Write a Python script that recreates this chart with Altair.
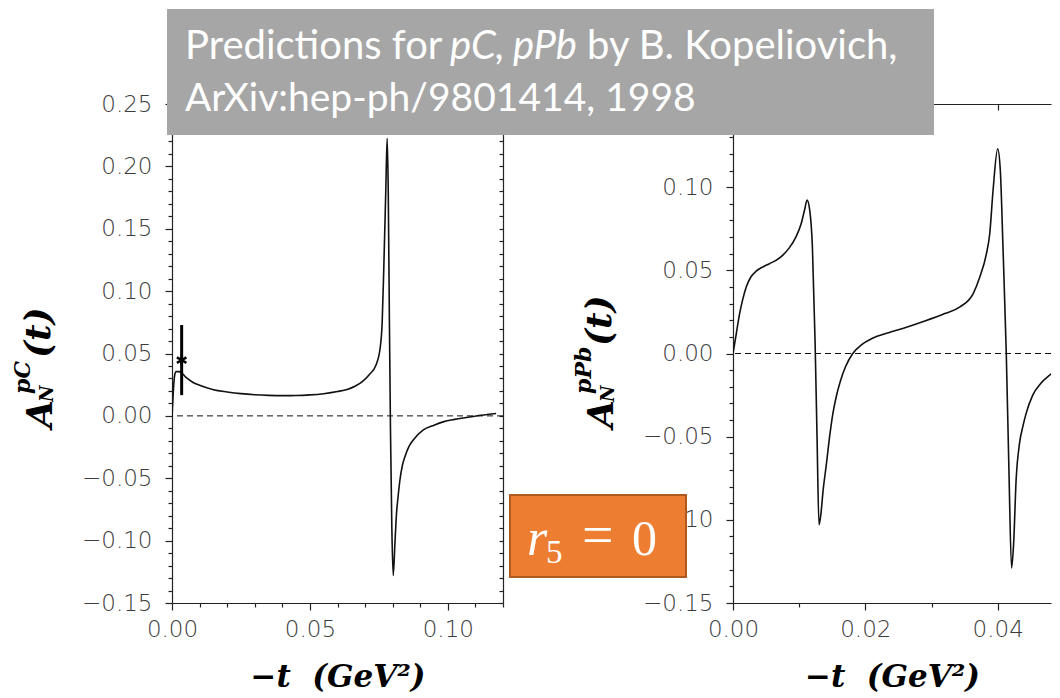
import altair as alt
import pandas as pd

# ---------------- data ----------------
# p-C analysing power (left panel)
pc_t = [0.0, 0.0003, 0.0006, 0.001, 0.0015, 0.0025, 0.0035, 0.005, 0.0075, 0.01,
        0.015, 0.02, 0.025, 0.03, 0.035, 0.04, 0.045, 0.05, 0.055, 0.06,
        0.0635, 0.0665, 0.069, 0.0715, 0.074, 0.0755, 0.0762, 0.0768, 0.0775, 0.078,
        0.0784, 0.0788, 0.0792, 0.0797, 0.0802, 0.0808, 0.0814, 0.082, 0.0826, 0.0835,
        0.0844, 0.0858, 0.0874, 0.091, 0.095, 0.0983, 0.1025, 0.1067, 0.112, 0.1175]
pc_a = [0.0, 0.012, 0.024, 0.033, 0.0355, 0.0355, 0.0345, 0.031, 0.027, 0.0245,
        0.021, 0.0192, 0.0178, 0.0169, 0.0164, 0.0162, 0.0163, 0.0168, 0.0178, 0.0195,
        0.0212, 0.024, 0.0275, 0.033, 0.041, 0.055, 0.075, 0.12, 0.18, 0.2226,
        0.18, 0.08, -0.01, -0.09, -0.128, -0.103, -0.078, -0.064, -0.052, -0.040,
        -0.033, -0.025, -0.0195, -0.0115, -0.0075, -0.0048, -0.0028, -0.0013, 0.0005, 0.0019]

# p-Pb analysing power (right panel)
pb_t = [0.0, 0.0005, 0.001, 0.0015, 0.002, 0.0027, 0.0035, 0.0045, 0.0055, 0.0065,
        0.0075, 0.0085, 0.0095, 0.0103, 0.0108, 0.0112, 0.0116, 0.012, 0.0124, 0.0127,
        0.013, 0.0133, 0.0136, 0.0141, 0.0146, 0.0151, 0.0156, 0.0162, 0.017, 0.0181,
        0.0195, 0.021, 0.0235, 0.026, 0.029, 0.032, 0.0343, 0.0363, 0.0373, 0.0383,
        0.0388, 0.0393, 0.04, 0.0404, 0.0408, 0.0413, 0.0417, 0.0421, 0.0424, 0.0428,
        0.0433, 0.0438, 0.0443, 0.0453, 0.0465, 0.048, 0.0493, 0.05]
pb_a = [0.0, 0.012, 0.024, 0.033, 0.040, 0.046, 0.0495, 0.052, 0.054, 0.056,
        0.059, 0.0635, 0.07, 0.078, 0.086, 0.0922, 0.086, 0.064, 0.008, -0.05,
        -0.103, -0.096, -0.083, -0.067, -0.050, -0.036, -0.026, -0.017, -0.008, 0.0,
        0.0055, 0.009, 0.0125, 0.0155, 0.0195, 0.024, 0.028, 0.036, 0.046, 0.060,
        0.072, 0.098, 0.123, 0.11, 0.064, 0.0, -0.07, -0.129, -0.115, -0.075,
        -0.054, -0.044, -0.036, -0.025, -0.018, -0.0125, -0.0085, -0.0068]

# measured point with error bar (left panel)
pt_t = [0.0035]
pt_a = [0.0447]
pt_lo = [0.0166]
pt_hi = [0.0728]

# axis ticks
lx_major = [0.0, 0.05, 0.10]
lx_minor = [0.01, 0.02, 0.03, 0.04, 0.06, 0.07, 0.08, 0.09, 0.11, 0.12]
ly_major = [-0.15, -0.10, -0.05, 0.0, 0.05, 0.10, 0.15, 0.20, 0.25]
rx_major = [0.0, 0.02, 0.04]
rx_minor = [0.01, 0.03]
ry_major = [-0.15, -0.10, -0.05, 0.0, 0.05, 0.10]

title_line1 = [("Predictions for", "normal"), ("pC,", "italic"), ("pPb", "italic"),
               ("by B. Kopeliovich,", "normal")]
title_line2 = "ArXiv:hep-ph/9801414, 1998"
xtitle = "\u2212t\u00a0\u00a0(GeV\u00b2)"

W = 331
WR = 318
H = 499


def steps(lo, hi, step=0.01):
    n = int(round((hi - lo) / step))
    return [round(lo + i * step, 3) for i in range(n + 1)]


def minors(lo, hi, majors):
    return [v for v in steps(lo, hi) if all(abs(v - m) > 1e-6 for m in majors)]


one = pd.DataFrame({"k": [0]})
zero_df = pd.DataFrame({"z": [0.0]})
carrier_df = pd.DataFrame({"t": [0.0], "a": [0.0]})

TK = dict(tickColor="#222", tickWidth=1.2, grid=False)
AX_LABEL = dict(labelFont="DejaVu Sans", labelFontSize=23, labelFontWeight=200,
                labelColor="#3c3c3c", labelFlush=False, domainColor="#222",
                domainWidth=1.2, **TK)


def panel(t, a, xdom, ydom, xmaj, xmin, ymaj, sup, tshift, top_ticks, width, right_ticks):
    df = pd.DataFrame({"t": t, "a": a})
    xs = alt.Scale(domain=xdom, nice=False, zero=False)
    ys = alt.Scale(domain=ydom, nice=False, zero=False)
    curve = alt.Chart(df).mark_line(color="#111", strokeWidth=1.6, clip=True,
                                    interpolate="monotone").encode(
        x=alt.X("t:Q", scale=xs, axis=alt.Axis(
            orient="bottom", values=xmaj, format=".2f", tickSize=7, labelPadding=8,
            title=xtitle, titleFont="DejaVu Serif", titleFontStyle="italic",
            titleFontWeight="bold", titleFontSize=31, titleColor="#000",
            titlePadding=21, **AX_LABEL)),
        y=alt.Y("a:Q", scale=ys, axis=alt.Axis(
            orient="left", values=ymaj, format=".2f", tickSize=7, labelPadding=13,
            title=None, **AX_LABEL)),
    )
    carrier = alt.Chart(carrier_df)
    minor = carrier.mark_point(opacity=0, size=1).encode(
        x=alt.X("t:Q", scale=xs, axis=alt.Axis(
            orient="bottom", values=xmin, labels=False, tickSize=4, domain=False,
            title=None, **TK)),
        y=alt.Y("a:Q", scale=ys, axis=alt.Axis(
            orient="left", values=minors(ydom[0], ydom[1], ymaj), labels=False,
            tickSize=4, domain=False, title=None, **TK)),
    )
    mirror_y_axis = alt.Axis(
        orient="left", offset=-width, values=steps(ydom[0], ydom[1]) if right_ticks else [],
        labels=False, tickSize=4, domain=right_ticks, domainColor="#222",
        domainWidth=1.2, title=None, **TK)
    mirror = carrier.mark_point(opacity=0, size=1).encode(
        x=alt.X("t:Q", scale=xs, axis=alt.Axis(
            orient="bottom", offset=-H, values=top_ticks, labels=False, tickSize=6,
            domain=True, domainColor="#222", domainWidth=1.2, title=None, **TK)),
        y=alt.Y("a:Q", scale=ys, axis=mirror_y_axis),
    )
    zero = alt.Chart(zero_df).mark_rule(strokeDash=[6, 4], color="#111",
                                        strokeWidth=1).encode(
        y=alt.Y("z:Q", scale=ys, axis=None))
    ytit = []
    for txt, xx, yy, fs in [("A", -120, 324, 36), ("N", -119, 298, 18),
                            (sup, -142, 290, 22), ("(t)", -122, tshift, 36)]:
        ytit.append(alt.Chart(one).mark_text(
            text=txt, angle=270, align="left", baseline="alphabetic",
            font="DejaVu Serif", fontStyle="italic", fontWeight="bold",
            fontSize=fs, color="#000").encode(x=alt.value(xx), y=alt.value(yy)))
    return [zero, curve, minor, mirror] + ytit, xs, ys


# ---------------- left panel ----------------
l_layers, lxs, lys = panel(pc_t, pc_a, [0, 0.12], [-0.15, 0.25], lx_major, lx_minor,
                           ly_major, "pC", 254, [], W, True)
pt_df = pd.DataFrame({"t": pt_t, "a": pt_a, "lo": pt_lo, "hi": pt_hi})
err = alt.Chart(pt_df).mark_rule(color="#000", strokeWidth=3).encode(
    x=alt.X("t:Q", scale=lxs, axis=None),
    y=alt.Y("lo:Q", scale=lys, axis=None), y2="hi:Q")
star = alt.Chart(pt_df).mark_point(
    shape="M0,-1L0,1M-0.87,-0.5L0.87,0.5M-0.87,0.5L0.87,-0.5",
    filled=False, color="#000", strokeWidth=2.4, size=120, opacity=1).encode(
    x=alt.X("t:Q", scale=lxs, axis=None), y=alt.Y("a:Q", scale=lys, axis=None))
frame = alt.Chart(one).mark_rect(fill="white", opacity=0).encode(
    x=alt.value(-164), x2=alt.value(W), y=alt.value(-96), y2=alt.value(585))
left = alt.layer(frame, *l_layers, err, star).resolve_axis(
    x="independent", y="independent").properties(width=W, height=H)

# ---------------- right panel ----------------
r_layers, rxs, rys = panel(pb_t, pb_a, [0, WR / 6617.0], [-0.15, 0.15], rx_major,
                           rx_minor, ry_major, "pPb", 242, [0.0, 0.02, 0.04], WR, False)

gray = alt.Chart(one).mark_rect(fill="#A6A6A6").encode(
    x=alt.value(-566), x2=alt.value(201), y=alt.value(-95), y2=alt.value(31))
tx = []
for (txt, style), xx in zip(title_line1, [-548, -283, -220, -146]):
    tx.append(alt.Chart(one).mark_text(
        text=txt, align="left", baseline="alphabetic", font="Lato", fontSize=40,
        fontStyle=style, color="white").encode(x=alt.value(xx), y=alt.value(-45)))
tx.append(alt.Chart(one).mark_text(
    text=title_line2, align="left", baseline="alphabetic", font="Lato", fontSize=39,
    color="white").encode(x=alt.value(-548), y=alt.value(7)))

orange = alt.Chart(one).mark_rect(fill="#ED7D31", stroke="#AE5A21", strokeWidth=2).encode(
    x=alt.value(-223), x2=alt.value(-47), y=alt.value(391), y2=alt.value(473))
o_txt = [
    alt.Chart(one).mark_text(text="r", align="left", baseline="alphabetic",
                             font="Liberation Serif", fontStyle="italic", fontSize=52,
                             color="white").encode(x=alt.value(-206), y=alt.value(451)),
    alt.Chart(one).mark_text(text="5", align="left", baseline="alphabetic",
                             font="Liberation Serif", fontSize=33,
                             color="white").encode(x=alt.value(-187), y=alt.value(459)),
    alt.Chart(one).mark_text(text="=", align="left", baseline="alphabetic",
                             font="Liberation Serif", fontSize=56,
                             color="white").encode(x=alt.value(-151), y=alt.value(450)),
    alt.Chart(one).mark_text(text="0", align="left", baseline="alphabetic",
                             font="Liberation Serif", fontSize=50,
                             color="white").encode(x=alt.value(-101), y=alt.value(451)),
]

right = alt.layer(*r_layers, orange, *o_txt, gray, *tx).resolve_axis(
    x="independent", y="independent").properties(width=WR, height=H)

chart = alt.hconcat(left, right, spacing=230, bounds="flush").properties(
    padding=0
).configure_view(stroke=None).configure_axis(grid=False)

chart.save("out.html", embed_options={"renderer": "svg", "actions": False})
